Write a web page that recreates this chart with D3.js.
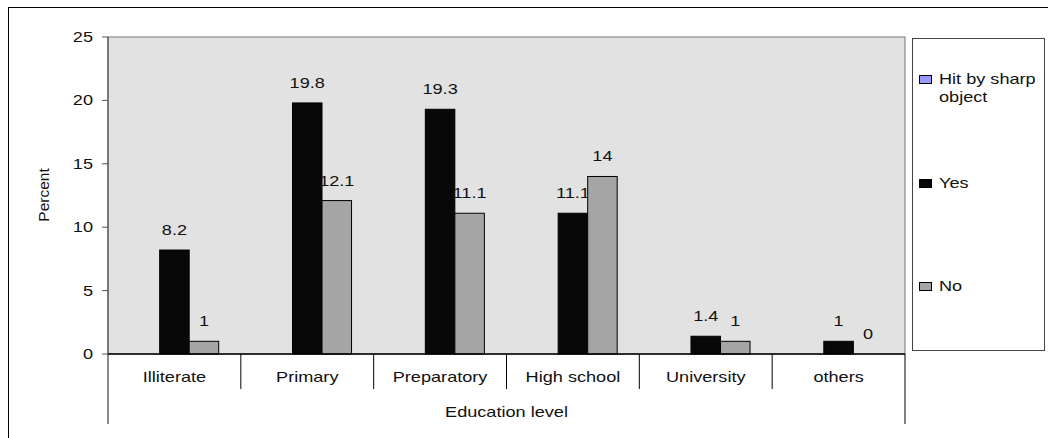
<!DOCTYPE html>
<html><head><meta charset="utf-8">
<script src="https://cdn.jsdelivr.net/npm/d3@7"></script>
<style>
body{margin:0;background:#fff;}
text{font-family:"Liberation Sans",Arial,sans-serif;fill:#111;}
</style></head>
<body><svg id="c" width="1048" height="438"></svg>
<script>
const categories = ["Illiterate","Primary","Preparatory","High school","University","others"];
const seriesNames = ["Hit by sharp object","Yes","No"];
const hitValues = [null,null,null,null,null,null];
const yesValues = [8.2,19.8,19.3,11.1,1.4,1];
const noValues = [1,12.1,11.1,14,1,0];
const yTicks = [0,5,10,15,20,25];
const xTitle = "Education level";
const yTitle = "Percent";

const seriesValues = [hitValues, yesValues, noValues];
const colors = ["#9999ff","#080808","#a5a5a5"];
const SX = 1.25, FS = 14.5;

const svg = d3.select("#c");
const L = 108, R = 905, T = 37, B = 354;

function txt(g, x, y, s, anchor){
  return g.append("text").attr("transform",`translate(${x},${y}) scale(${SX},1)`)
    .attr("text-anchor",anchor).style("font-size",FS+"px").text(s);
}

// outer frame (top and left only visible)
svg.append("line").attr("x1",8).attr("x2",1048).attr("y1",7.5).attr("y2",7.5).attr("stroke","#000");
svg.append("line").attr("x1",8.5).attr("x2",8.5).attr("y1",7).attr("y2",438).attr("stroke","#000");

const x0 = d3.scaleBand().domain(categories).range([L,R]).paddingInner(0).paddingOuter(0);
const x1 = d3.scaleBand().domain(seriesNames).range([0,x0.bandwidth()]).paddingInner(0).paddingOuter(0.75);
const y = d3.scaleLinear().domain([0,25]).range([B,T]);

// plot area
svg.append("rect").attr("x",L).attr("y",T).attr("width",R-L).attr("height",B-T)
  .attr("fill","#e2e2e2").attr("stroke","#8a8a8a").attr("stroke-width",1.2);

// bars
const g = svg.append("g");
seriesValues.forEach((vals,si)=>{
  vals.forEach((v,ci)=>{
    if(v===null) return;
    const bx = x0(categories[ci]) + x1(seriesNames[si]);
    g.append("rect").attr("x",bx).attr("y",y(v)).attr("width",x1.bandwidth())
      .attr("height",y(0)-y(v)).attr("fill",colors[si]).attr("stroke","#000").attr("stroke-width",1);
    txt(g, bx + x1.bandwidth()/2, y(v)-15, String(v), "middle");
  });
});

// y axis
svg.append("line").attr("x1",L).attr("x2",L).attr("y1",T).attr("y2",424).attr("stroke","#666").attr("stroke-width",1.5);
yTicks.forEach(t=>{
  svg.append("line").attr("x1",L-6).attr("x2",L).attr("y1",y(t)).attr("y2",y(t)).attr("stroke","#555");
  txt(svg, 93, y(t)+5, String(t), "end");
});
svg.append("text").attr("transform",`translate(49,195) rotate(-90)`).attr("text-anchor","middle")
  .style("font-size","15.5px").text(yTitle);

// x axis
svg.append("line").attr("x1",L).attr("x2",R).attr("y1",B).attr("y2",B).attr("stroke","#000").attr("stroke-width",1.5);
categories.forEach((c,i)=>{
  const xs = x0(c);
  if(i>0) svg.append("line").attr("x1",xs).attr("x2",xs).attr("y1",B).attr("y2",389).attr("stroke","#000");
  txt(svg, xs + x0.bandwidth()/2, 382, c, "middle");
});
svg.append("line").attr("x1",R).attr("x2",R).attr("y1",B).attr("y2",424).attr("stroke","#000");
txt(svg, (L+R)/2, 417, xTitle, "middle");

// legend
svg.append("rect").attr("x",912.5).attr("y",38.5).attr("width",132).attr("height",312)
  .attr("fill","#fff").attr("stroke","#444");
const legY = [84,188,291];
seriesNames.forEach((s,i)=>{
  svg.append("rect").attr("x",919.5).attr("y",legY[i]-8.5).attr("width",12).attr("height",8)
    .attr("fill",colors[i]).attr("stroke","#000");
  if(i===0){
    txt(svg, 939, legY[i], "Hit by sharp", "start");
    txt(svg, 939, legY[i]+18, "object", "start");
  } else {
    txt(svg, 939, legY[i], s, "start");
  }
});
</script></body></html>
